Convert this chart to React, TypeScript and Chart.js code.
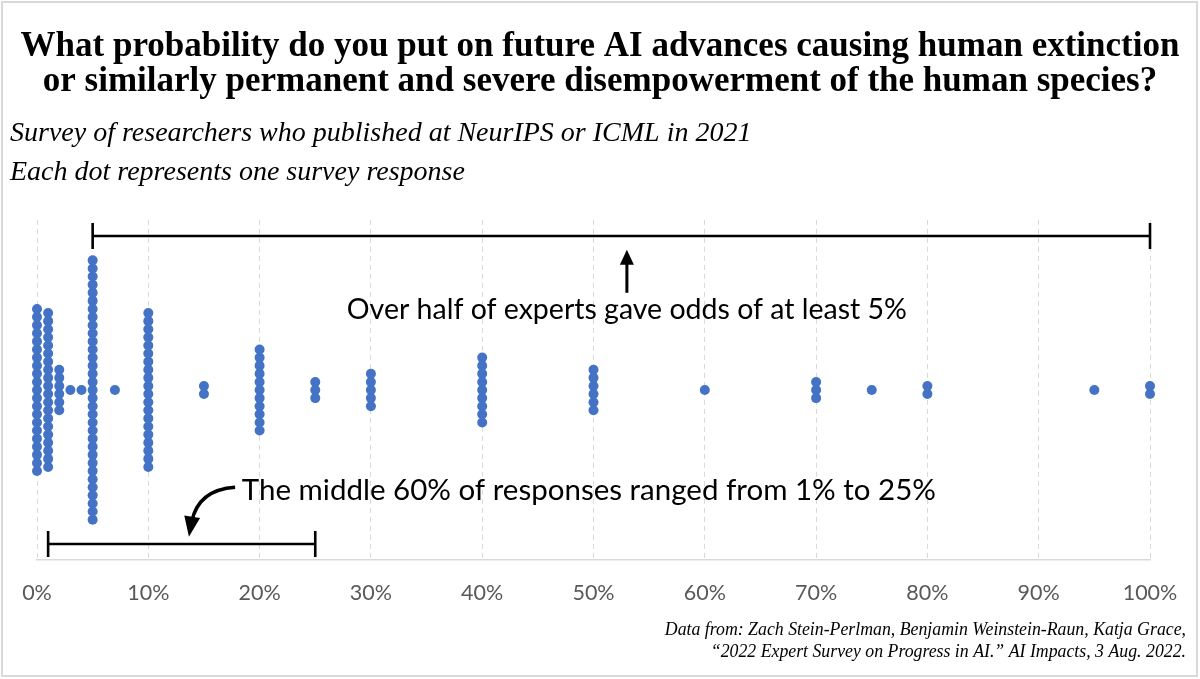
import { useEffect, useRef } from 'react';
import { Chart, registerables, Plugin } from 'chart.js';

Chart.register(...registerables);

// each answer (in %) and how many respondents gave it
const answerPercents = [0, 1, 2, 3, 4, 5, 7, 10, 15, 20, 25, 30, 40, 50, 60, 70, 75, 80, 95, 100];
const responseCounts = [21, 20, 6, 1, 1, 33, 1, 20, 2, 11, 3, 5, 9, 6, 1, 3, 1, 2, 1, 2];

const tickPercents = [0, 10, 20, 30, 40, 50, 60, 70, 80, 90, 100];

const titleLines = [
    'What probability do you put on future AI advances causing human extinction',
    'or similarly permanent and severe disempowerment of the human species?',
];
const subtitleLines = [
    'Survey of researchers who published at NeurIPS or ICML in 2021',
    'Each dot represents one survey response',
];
const sourceLines = [
    'Data from: Zach Stein-Perlman, Benjamin Weinstein-Raun, Katja Grace,',
    '\u201C2022 Expert Survey on Progress in AI.\u201D AI Impacts, 3 Aug. 2022.',
];

// bracketed ranges (in %)
const majorityRange = [5, 100];
const middleRange = [1, 25];
const majorityNote = 'Over half of experts gave odds of at least 5%';
const middleNote = 'The middle 60% of responses ranged from 1% to 25%';

// stack the responses for one answer vertically around the centre line
const dots = answerPercents.flatMap((p, i) => {
    const n = responseCounts[i];
    return Array.from({ length: n }, (_, k) => ({ x: p, y: k - (n - 1) / 2 }));
});

const notesPlugin: Plugin<'scatter'> = {
    id: 'notes',
    beforeDraw(chart) {
        const { ctx, width, height } = chart;
        ctx.save();
        ctx.fillStyle = '#ffffff';
        ctx.fillRect(0, 0, width, height);
        ctx.strokeStyle = '#d9d9d9';
        ctx.lineWidth = 2;
        ctx.strokeRect(2, 2, width - 5, height - 5);
        ctx.restore();
    },
    afterDatasetsDraw(chart) {
        const { ctx, width } = chart;
        const xs = chart.scales.x;
        const ys = chart.scales.y;
        const px = (v: number) => xs.getPixelForValue(v);
        const py = (v: number) => ys.getPixelForValue(v);

        ctx.save();
        ctx.strokeStyle = '#000';
        ctx.fillStyle = '#000';

        const bracket = (from: number, to: number, level: number) => {
            const x0 = px(from);
            const x1 = px(to);
            const yy = py(level);
            ctx.lineWidth = 2.6;
            ctx.beginPath();
            ctx.moveTo(x0, yy);
            ctx.lineTo(x1, yy);
            ctx.moveTo(x0, yy - 13);
            ctx.lineTo(x0, yy + 13);
            ctx.moveTo(x1, yy - 13);
            ctx.lineTo(x1, yy + 13);
            ctx.stroke();
        };
        bracket(majorityRange[0], majorityRange[1], 19);
        bracket(middleRange[0], middleRange[1], -19);

        // straight arrow up to the top bracket
        const ax = px(53);
        const tipY = py(17.3);
        ctx.lineWidth = 3;
        ctx.beginPath();
        ctx.moveTo(ax, py(12));
        ctx.lineTo(ax, tipY + 10);
        ctx.stroke();
        ctx.beginPath();
        ctx.moveTo(ax, tipY);
        ctx.lineTo(ax - 7, tipY + 15);
        ctx.lineTo(ax + 7, tipY + 15);
        ctx.closePath();
        ctx.fill();

        // curved arrow down to the bottom bracket
        const sx = px(17.8), sy = py(-12.0);
        const cx = px(14.5), cy = py(-12.3);
        const ex = px(13.9), ey = py(-16.0);
        const tx = px(13.65), ty = py(-18.1);
        ctx.lineWidth = 3.5;
        ctx.beginPath();
        ctx.moveTo(sx, sy);
        ctx.quadraticCurveTo(cx, cy, ex, ey + 2);
        ctx.stroke();
        const ang = Math.atan2(ty - ey, tx - ex);
        const hw = 8;
        ctx.beginPath();
        ctx.moveTo(tx, ty);
        ctx.lineTo(ex - 3 * Math.cos(ang) + hw * Math.sin(ang), ey - 3 * Math.sin(ang) - hw * Math.cos(ang));
        ctx.lineTo(ex - 3 * Math.cos(ang) - hw * Math.sin(ang), ey - 3 * Math.sin(ang) + hw * Math.cos(ang));
        ctx.closePath();
        ctx.fill();

        // notes
        ctx.textBaseline = 'middle';
        ctx.font = '28.5px Lato';
        ctx.textAlign = 'center';
        ctx.fillText(majorityNote, px(53), py(9.9));
        ctx.font = '29.5px Lato';
        ctx.textAlign = 'left';
        ctx.fillText(middleNote, px(18.4), py(-12.4));

        // source
        ctx.font = 'italic 17.8px "Liberation Serif"';
        ctx.textAlign = 'right';
        ctx.fillText(sourceLines[0], width - 14, 630);
        ctx.fillText(sourceLines[1], width - 14, 652);
        ctx.restore();
    },
};

export default function App() {
    const canvasRef = useRef<HTMLCanvasElement | null>(null);

    useEffect(() => {
        if (!canvasRef.current) return;

        const chart = new Chart(canvasRef.current, {
            type: 'scatter',
            data: {
                datasets: [
                    {
                        data: dots,
                        pointRadius: 5,
                        pointHoverRadius: 5,
                        backgroundColor: '#4472c4',
                        borderWidth: 0,
                        clip: false,
                    },
                ],
            },
            options: {
                animation: false,
                responsive: true,
                maintainAspectRatio: false,
                layout: { padding: { left: 10, right: 10, top: 0, bottom: 53 } },
                plugins: {
                    legend: { display: false },
                    tooltip: { enabled: false },
                    title: {
                        display: true,
                        text: titleLines,
                        color: '#000',
                        font: { family: '"Liberation Serif"', size: 35, weight: 'bold', lineHeight: 1.0 },
                        padding: { top: 29, bottom: 0 },
                    },
                    subtitle: {
                        display: true,
                        align: 'start',
                        text: subtitleLines,
                        color: '#000',
                        font: { family: '"Liberation Serif"', size: 28, style: 'italic', lineHeight: 1.39 },
                        padding: { top: 15, bottom: 28 },
                    },
                },
                scales: {
                    x: {
                        type: 'linear',
                        min: 0,
                        max: 100,
                        afterBuildTicks: (scale) => {
                            scale.ticks = tickPercents.map((v) => ({ value: v }));
                        },
                        ticks: {
                            callback: (v) => `${v}%`,
                            color: '#595959',
                            font: { family: 'Lato', size: 21.5 },
                            padding: 20,
                            maxRotation: 0,
                        },
                        grid: { color: '#d9d9d9', lineWidth: 1, drawTicks: false },
                        border: { color: '#d9d9d9', width: 1.5, dash: [5, 4] },
                    },
                    y: {
                        min: -21,
                        max: 21,
                        ticks: { display: false },
                        grid: { display: false },
                        border: { display: false },
                        afterFit: (scale) => {
                            scale.width = 27;
                        },
                    },
                    yRight: {
                        position: 'right',
                        ticks: { display: false },
                        grid: { display: false },
                        border: { display: false },
                        afterFit: (scale) => {
                            scale.width = 40;
                        },
                    },
                },
            },
            plugins: [notesPlugin],
        });

        return () => {
            chart.destroy();
        };
    }, []);

    return (
        <div style={{ position: 'absolute', left: 0, top: 0, width: 1200, height: 679 }}>
            <canvas ref={canvasRef}></canvas>
        </div>
    );
}
